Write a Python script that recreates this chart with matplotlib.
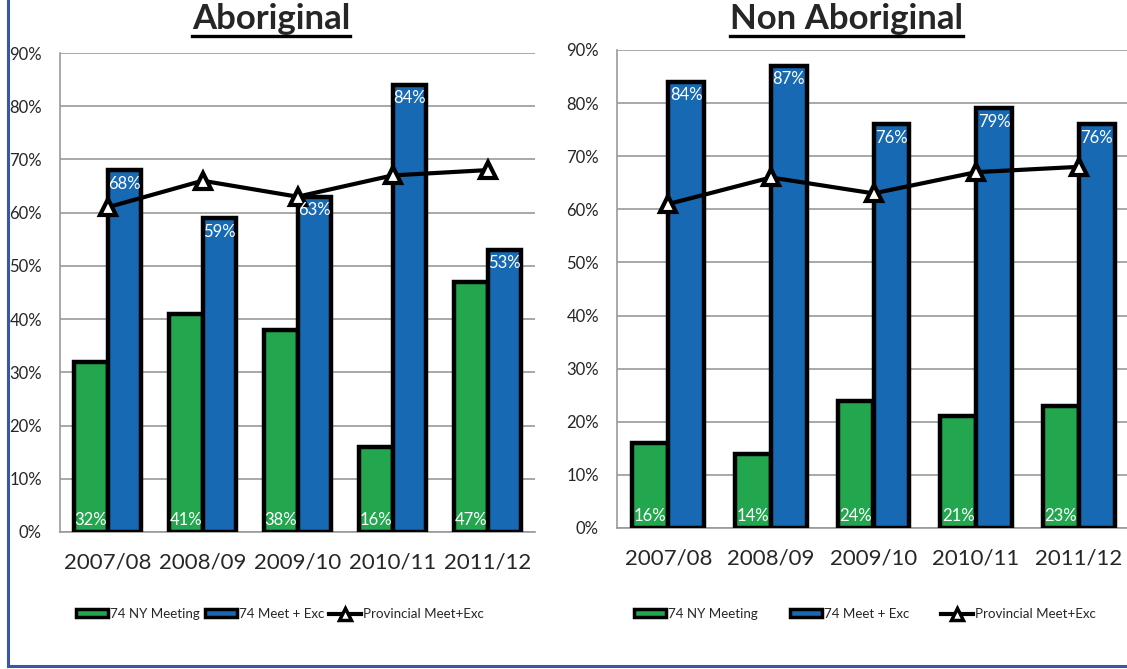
import matplotlib
matplotlib.use("Agg")
import matplotlib.pyplot as plt
from matplotlib.patches import Patch
from matplotlib.lines import Line2D
import numpy as np

plt.rcParams['font.family'] = ['Lato', 'DejaVu Sans']

years = ["2007/08", "2008/09", "2009/10", "2010/11", "2011/12"]
abor_ny = [32, 41, 38, 16, 47]
abor_meet = [68, 59, 63, 84, 53]
non_ny = [16, 14, 24, 21, 23]
non_meet = [84, 87, 76, 79, 76]
provincial = [61, 66, 63, 67, 68]

GREEN = "#22A64E"
BLUE = "#1769B3"
GRID = "#9a9a9a"
TEXT = "#262626"

W, H = 1127, 669
fig = plt.figure(figsize=(W / 100, H / 100), dpi=100)


def px_axes(x0, y_top, x1, y_bot):
    return fig.add_axes([x0 / W, 1 - y_bot / H, (x1 - x0) / W, (y_bot - y_top) / H])


def draw_panel(ax, ny, meet, title, title_x, legend_center, colspace):
    x = np.arange(len(years))
    w = 0.35
    ax.bar(x - w / 2, ny, w, color=GREEN, edgecolor="black", linewidth=3.2, zorder=3)
    ax.bar(x + w / 2, meet, w, color=BLUE, edgecolor="black", linewidth=3.2, zorder=3)
    ax.plot(x, provincial, color="black", lw=3, marker="^", markersize=12,
            markerfacecolor="white", markeredgecolor="black", markeredgewidth=3,
            zorder=5, clip_on=False)
    for i in range(len(years)):
        ax.annotate(f"{ny[i]}%", (x[i] - w / 2, 0), xytext=(0, 3),
                    textcoords="offset points", ha="center", va="bottom",
                    color="white", fontsize=12, zorder=6)
        ax.annotate(f"{meet[i]}%", (x[i] + w / 2, meet[i]), xytext=(0, -4),
                    textcoords="offset points", ha="center", va="top",
                    color="white", fontsize=12, zorder=6)
    ax.set_xlim(-0.5, len(years) - 0.5)
    ax.set_ylim(0, 90)
    ax.set_yticks(range(0, 91, 10))
    ax.set_yticklabels([f"{v}%" for v in range(0, 91, 10)], fontsize=12, color=TEXT)
    ax.set_xticks(x)
    ax.set_xticklabels(years, fontsize=16, color=TEXT)
    ax.tick_params(axis="y", length=0, pad=13)
    ax.tick_params(axis="x", length=0, pad=15)
    ax.grid(axis="y", color=GRID, lw=1.2, zorder=0)
    for s in ["top", "right"]:
        ax.spines[s].set_visible(False)
    for s in ["left", "bottom"]:
        ax.spines[s].set_color(GRID)
        ax.spines[s].set_linewidth(1.2)

    t = fig.text(title_x / W, 1 - 19 / H, title, ha="center", va="center",
                 fontsize=25, fontweight="bold", color=TEXT)
    fig.canvas.draw()
    bb = t.get_window_extent()
    y_line = bb.y0 - 1
    fig.add_artist(Line2D([bb.x0 / W, bb.x1 / W], [y_line / H, y_line / H],
                          color="black", lw=2.4))

    handles = [
        Patch(facecolor=GREEN, edgecolor="black", linewidth=2.5, label="74 NY Meeting"),
        Patch(facecolor=BLUE, edgecolor="black", linewidth=2.5, label="74 Meet + Exc"),
        Line2D([], [], color="black", lw=3, marker="^", markersize=8,
               markerfacecolor="white", markeredgecolor="black", markeredgewidth=2.5,
               label="Provincial Meet+Exc"),
    ]
    fig.legend(handles=handles, loc="center", ncol=3, frameon=False,
               bbox_to_anchor=(legend_center / W, 1 - 614 / H),
               fontsize=9.6, handlelength=2.4, handleheight=0.55, handletextpad=0.15,
               columnspacing=colspace, labelcolor=TEXT)


ax1 = px_axes(60, 53, 535, 532)
draw_panel(ax1, abor_ny, abor_meet, "Aboriginal", 271, 280, 0.35)
ax2 = px_axes(617, 50, 1130, 528)
draw_panel(ax2, non_ny, non_meet, "Non Aboriginal", 846, 865, 2.4)

# blue frame on the left and bottom edges
fig.add_artist(Line2D([8 / W, 8 / W], [1 - 666 / H, 1.0], color="#3B56A8", lw=2.2))
fig.add_artist(Line2D([8 / W, 1.0], [1 - 666 / H, 1 - 666 / H], color="#3B56A8", lw=2.2))

fig.savefig("out.png", dpi=100)
